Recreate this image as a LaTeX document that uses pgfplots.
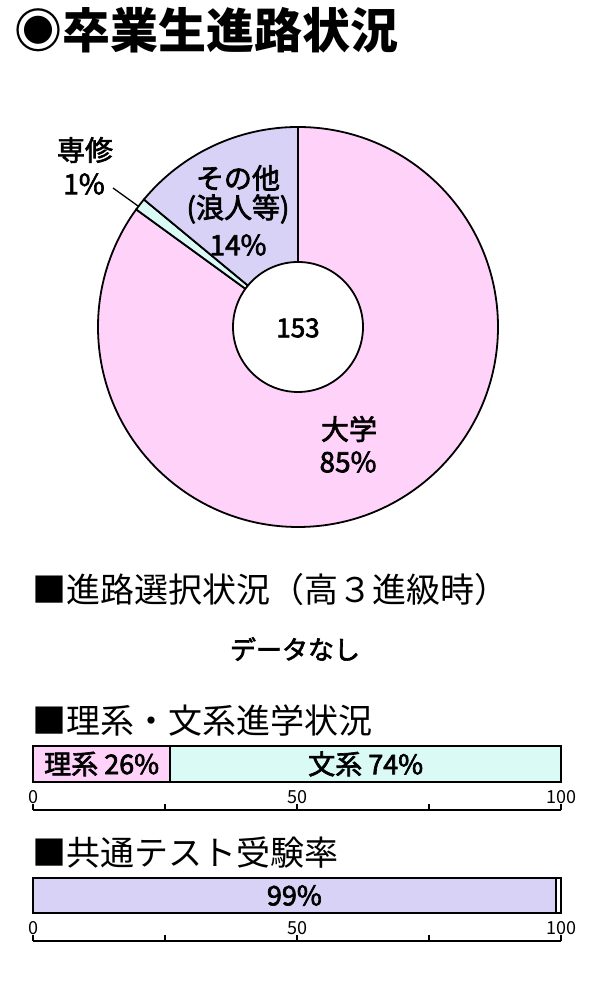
\documentclass[border=0pt]{standalone}
\usepackage{fontspec}
\setmainfont{Noto Sans CJK JP}
\newfontfamily\med{Noto Sans CJK JP}[FakeBold=2.4]
\usepackage{pgfplots}
\pgfplotsset{compat=1.18}

\definecolor{pinkc}{RGB}{255,210,250}
\definecolor{lavc}{RGB}{216,210,246}
\definecolor{mintc}{RGB}{218,251,245}
\newcommand\fs[1]{\fontsize{#1}{#1}\selectfont}

% shares of the 153 graduates: 大学 85, 専修 1, その他 14 (%)
% wedge angles: 大学 90 -> -216, 専修 144 -> 140.4, その他 140.4 -> 90

\begin{document}
\begin{tikzpicture}
\path[use as bounding box] (0pt,0pt) rectangle (600pt,1000pt);

% title and headings
\node[anchor=base west, inner sep=0, font=\bfseries\fs{48}] at (14pt,951pt) {◉卒業生進路状況};
\node[anchor=base west, inner sep=0, font=\fs{34}] at (32pt,397pt) {■進路選択状況（高３進級時）};
\node[inner sep=0, font=\med\fs{26}] at (295pt,351pt) {データなし};
\node[anchor=base west, inner sep=0, font=\fs{34}] at (32pt,266pt) {■理系・文系進学状況};
\node[anchor=base west, inner sep=0, font=\fs{34}] at (32pt,134pt) {■共通テスト受験率};

% donut
\begin{axis}[
	hide axis, clip=false,
	x=1pt, y=1pt,
	xmin=-200, xmax=200, ymin=-200, ymax=200,
	anchor=origin, at={(298pt,673pt)},
	]
	\addplot[fill=pinkc, draw=black, line width=1.8pt] coordinates {(0,0) (0,200)}
		arc[start angle=90, end angle=-216, radius=200pt] -- cycle;
	\addplot[fill=mintc, draw=black, line width=1.8pt] coordinates {(0,0) (-161.80,117.56)}
		arc[start angle=144, end angle=140.4, radius=200pt] -- cycle;
	\addplot[fill=lavc, draw=black, line width=1.8pt] coordinates {(0,0) (-154.11,127.48)}
		arc[start angle=140.4, end angle=90, radius=200pt] -- cycle;
	\addplot[fill=white, draw=black, line width=1.8pt] coordinates {(65,0)}
		arc[start angle=0, end angle=360, radius=65pt] -- cycle;
\end{axis}

% donut labels
\draw[line width=1.3pt] (113pt,812pt) -- (138pt,794pt);
\node[inner sep=0, font=\med\fs{28}] at (85pt,850pt) {専修};
\node[inner sep=0, font=\med\fs{28}] at (84pt,816pt) {1\%};
\node[inner sep=0, font=\med\fs{28}] at (238pt,822pt) {その他};
\node[inner sep=0, font=\med\fs{28}] at (238pt,791pt) {(浪人等)};
\node[inner sep=0, font=\med\fs{28}] at (238pt,755pt) {14\%};
\node[inner sep=0, font=\med\fs{28}] at (349pt,571pt) {大学};
\node[inner sep=0, font=\med\fs{28}] at (348pt,538pt) {85\%};
\node[inner sep=0, font=\med\fs{26}] at (298pt,672pt) {153};

\pgfplotsset{barbox/.style={
	x=5.28pt, y=1pt, xmin=0, xmax=100, ymin=0,
	anchor=origin, clip=false,
	axis x line*=bottom, axis y line=none,
	xbar stacked,
	xtick={0,50,100}, minor xtick={25,75}, ytick=\empty,
	tick align=inside, major tick length=6pt, minor tick length=6pt,
	tick style={black, line width=1.2pt},
	axis line style={line width=1.4pt},
	/pgf/number format/assume math mode=true,
	xticklabel style={anchor=south, yshift=3pt, font=\fs{18}},
	}}

% 理系・文系
\begin{axis}[barbox, at={(33pt,190pt)}, ymax=64, bar width=36]
	\addplot[fill=pinkc, draw=black, line width=1.8pt] coordinates {(26,46)};
	\addplot[fill=mintc, draw=black, line width=1.8pt] coordinates {(74,46)};
	\coordinate (rikei) at (axis cs:13,46);
	\coordinate (bunkei) at (axis cs:63,46);
\end{axis}
\node[font=\med\fs{27}] at (rikei) {理系 26\%};
\node[font=\med\fs{27}] at (bunkei) {文系 74\%};

% 共通テスト
\begin{axis}[barbox, at={(33pt,59pt)}, ymax=63, bar width=35]
	\addplot[fill=lavc, draw=black, line width=1.8pt] coordinates {(99,45.5)};
	\addplot[fill=white, draw=black, line width=1.8pt] coordinates {(1,45.5)};
	\coordinate (kyotsu) at (axis cs:49.5,45.5);
\end{axis}
\node[font=\med\fs{27}] at (kyotsu) {99\%};
\end{tikzpicture}
\end{document}
